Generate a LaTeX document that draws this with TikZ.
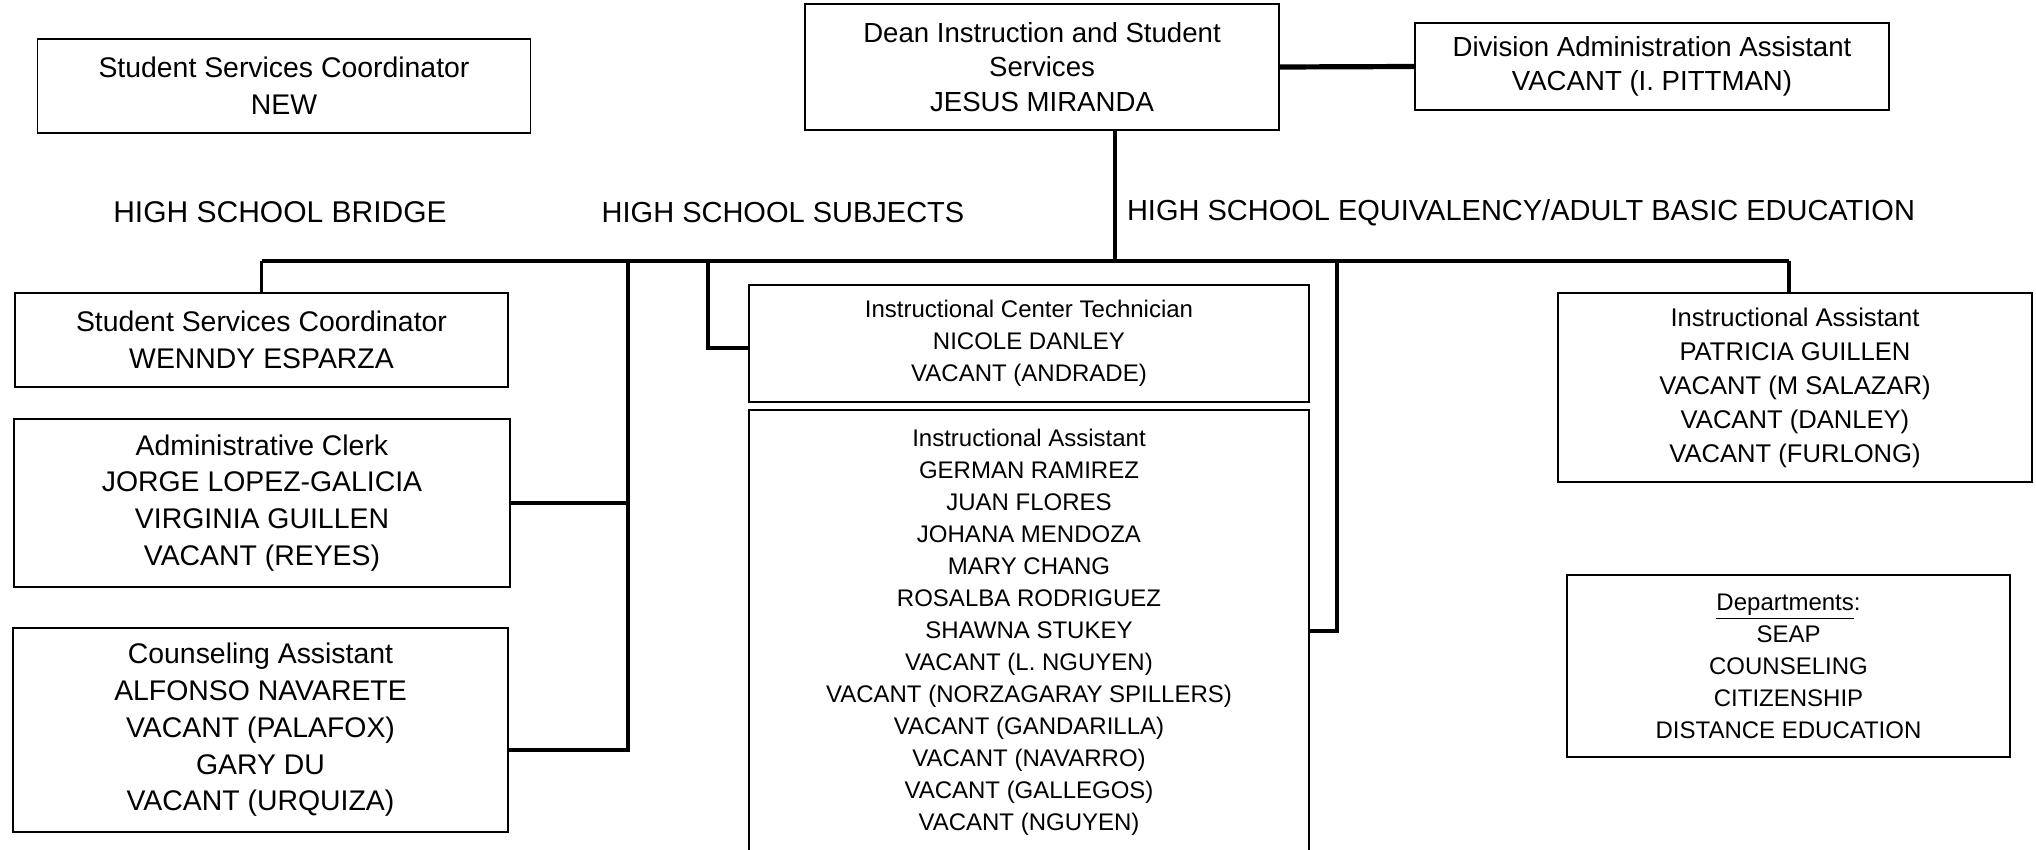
\documentclass[tikz,border=0pt]{standalone}
\usepackage{fontspec}
\setmainfont{Liberation Sans}
\usetikzlibrary{positioning}

\begin{document}
\begin{tikzpicture}[x=0.5pt, y=-0.5pt,
    box/.style={draw, line width=0.9pt, inner sep=0pt, align=center},
    bigtxt/.style={font=\fontsize{14.2}{18.4}\selectfont},
    deantxt/.style={font=\fontsize{13.8}{17.2}\selectfont},
    midtxt/.style={font=\fontsize{12.8}{17}\selectfont},
    smalltxt/.style={font=\fontsize{12}{16}\selectfont},
    head/.style={font=\fontsize{14.5}{17}\selectfont},
    link/.style={line width=1.8pt}
]
    \clip (0,0) rectangle (2036,850);
    \fill[white] (0,0) rectangle (2036,850);

    % top row
    \node[box, bigtxt, minimum width=246.5pt, minimum height=47pt] (ssnew) at (284,86) {Student Services Coordinator\\NEW};
    \node[box, deantxt, minimum width=237pt, minimum height=63pt] (dean) at (1042,67) {Dean Instruction and Student\\Services\\JESUS MIRANDA};
    \node[box, deantxt, minimum width=237pt, minimum height=43.5pt] (div) at (1652,66.5) {Division Administration Assistant\\VACANT (I. PITTMAN)};

    % program headings
    \node[head, font=\fontsize{15}{17}\selectfont] (bridge) at (280,212) {HIGH SCHOOL BRIDGE};
    \node[head] (subj) at (783,213) {HIGH SCHOOL SUBJECTS};
    \node[head] (equiv) at (1521,213) {HIGH SCHOOL EQUIVALENCY/ADULT BASIC EDUCATION};

    % bridge column
    \node[box, bigtxt, minimum width=246.5pt, minimum height=47pt] (wenndy) at (261.5,340) {Student Services Coordinator\\WENNDY ESPARZA};
    \node[box, bigtxt, minimum width=248pt, minimum height=84pt] (clerk) at (262,503) {Administrative Clerk\\JORGE LOPEZ-GALICIA\\VIRGINIA GUILLEN\\VACANT (REYES)};
    \node[box, bigtxt, minimum width=247.5pt, minimum height=102pt] (counsel) at (260.5,730) {Counseling Assistant\\ALFONSO NAVARETE\\VACANT (PALAFOX)\\GARY DU\\VACANT (URQUIZA)};

    % subjects column
    \node[box, smalltxt, minimum width=280pt, minimum height=58.5pt] (ict) at (1029,343.5) {Instructional Center Technician\\NICOLE DANLEY\\VACANT (ANDRADE)};
    \node[box, smalltxt, minimum width=280pt, minimum height=222pt] (ias) at (1029,632) {Instructional Assistant\\GERMAN RAMIREZ\\JUAN FLORES\\JOHANA MENDOZA\\MARY CHANG\\ROSALBA RODRIGUEZ\\SHAWNA STUKEY\\VACANT (L. NGUYEN)\\VACANT (NORZAGARAY SPILLERS)\\VACANT (GANDARILLA)\\VACANT (NAVARRO)\\VACANT (GALLEGOS)\\VACANT (NGUYEN)};

    % equivalency column
    \node[box, midtxt, minimum width=237pt, minimum height=94.5pt] (iar) at (1795,387.5) {Instructional Assistant\\PATRICIA GUILLEN\\VACANT (M SALAZAR)\\VACANT (DANLEY)\\VACANT (FURLONG)};
    \node[box, smalltxt, minimum width=221.5pt, minimum height=91pt] (dept) at (1788.5,666) {\underline{Departments}:\\SEAP\\COUNSELING\\CITIZENSHIP\\DISTANCE EDUCATION};

    % bus and drops
    \coordinate (busL) at (261.5,261);
    \coordinate (busR) at (1789,261);
    \coordinate (busJ) at (1115,261);
    \coordinate (hsb) at (628,261);
    \coordinate (hsbC) at (628,750);
    \coordinate (hss) at (708,261);
    \coordinate (ictIn) at (708,348);
    \coordinate (hse) at (1337,261);
    \coordinate (hseEnd) at (1337,631);

    \draw[line width=2.6pt] (dean.east) -- (div.west);
    \draw[line width=1.6pt] (busJ |- dean.south) -- (busJ);
    \draw[line width=2pt] (busL) -- (busR);
    \draw[link] (busL) -- (wenndy.north);
    \draw[link] (hsb) -- (hsbC) -- (hsbC -| counsel.east);
    \draw[link] (clerk.east) -- (clerk.east -| hsb);
    \draw[link] (hss) -- (ictIn) -- (ictIn -| ict.west);
    \draw[link] (hse) -- (hseEnd) -- (hseEnd -| ias.east);
    \draw[link] (busR) -- (busR |- iar.north);
\end{tikzpicture}
\end{document}
